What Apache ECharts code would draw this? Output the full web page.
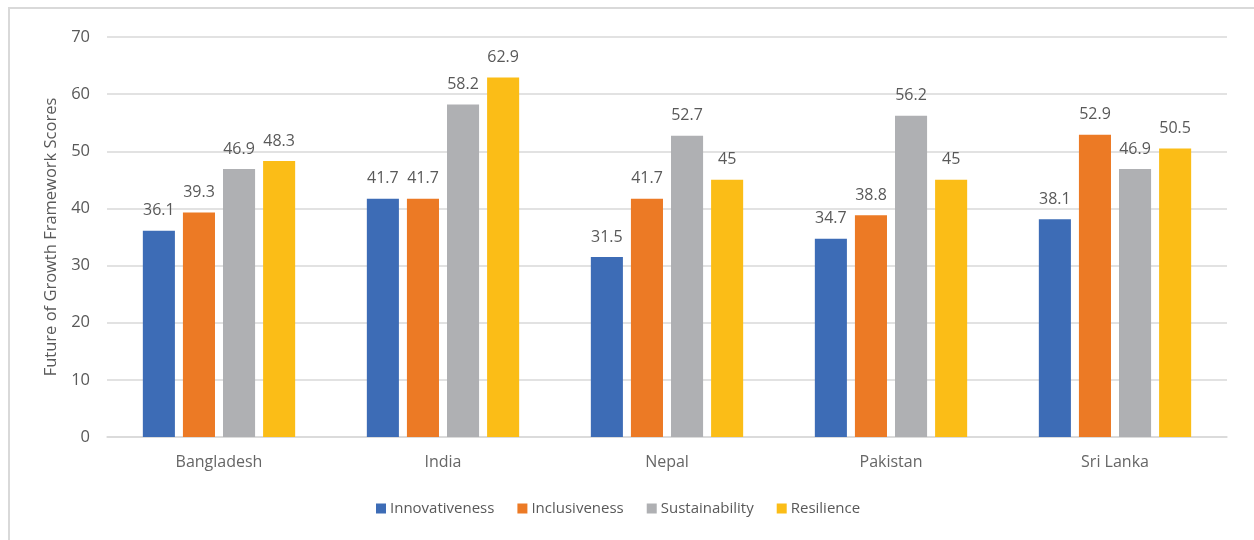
<!DOCTYPE html>
<html>
<head>
<meta charset="utf-8">
<script src="https://cdn.jsdelivr.net/npm/echarts@6/dist/echarts.min.js"></script>
<style>
  html, body { margin: 0; padding: 0; background: #ffffff; }
  #frame { position: absolute; left: 8px; top: 7px; width: 1246px; height: 533px;
           border-left: 2px solid #d9d9d9; border-top: 2px solid #d9d9d9; box-sizing: border-box; }
  #chart { width: 1254px; height: 540px; }
</style>
</head>
<body>
<div id="frame"></div>
<div id="chart"></div>
<script>
const countries = ['Bangladesh', 'India', 'Nepal', 'Pakistan', 'Sri Lanka'];
const innovativeness = [36.1, 41.7, 31.5, 34.7, 38.1];
const inclusiveness = [39.3, 41.7, 41.7, 38.8, 52.9];
const sustainability = [46.9, 58.2, 52.7, 56.2, 46.9];
const resilience = [48.3, 62.9, 45, 45, 50.5];
const seriesNames = ['Innovativeness', 'Inclusiveness', 'Sustainability', 'Resilience'];
const seriesColors = ['#3d6cb6', '#ec7a25', '#afb0b3', '#fbbd17'];

const font = '"Open Sans", "Noto Sans", sans-serif';
const textColor = '#595959';

const chart = echarts.init(document.getElementById('chart'), null, { renderer: 'canvas' });

const dataSets = [innovativeness, inclusiveness, sustainability, resilience];
const series = dataSets.map((d, i) => ({
  name: seriesNames[i],
  type: 'bar',
  data: d,
  barGap: '25%',
  barCategoryGap: '32%',
  itemStyle: { color: seriesColors[i] },
  label: {
    show: true,
    position: 'top',
    distance: 12,
    color: textColor,
    fontFamily: font,
    fontSize: 16
  },
  emphasis: { disabled: true }
}));

chart.setOption({
  animation: false,
  backgroundColor: 'transparent',
  grid: { left: 107, right: 27, top: 37, bottom: 103, containLabel: false },
  legend: {
    bottom: 19,
    left: 371,
    itemWidth: 10,
    itemHeight: 10,
    itemGap: 23,
    icon: 'rect',
    textStyle: { color: textColor, fontFamily: font, fontSize: 15, padding: [0, 0, 0, -1] },
    data: seriesNames
  },
  xAxis: {
    type: 'category',
    data: countries,
    axisLine: { show: true, lineStyle: { color: '#d9d9d9', width: 1.5 } },
    axisTick: { show: false },
    axisLabel: { color: '#666666', fontFamily: font, fontSize: 16, margin: 17 }
  },
  yAxis: {
    type: 'value',
    min: 0,
    max: 70,
    interval: 10,
    name: 'Future of Growth Framework Scores',
    nameLocation: 'middle',
    nameGap: 38,
    nameTextStyle: { color: textColor, fontFamily: font, fontSize: 16.5 },
    axisLine: { show: false },
    axisTick: { show: false },
    axisLabel: { color: textColor, fontFamily: font, fontSize: 16.5, margin: 17 },
    splitLine: { lineStyle: { color: '#d9d9d9', width: 1.5 } }
  },
  series: series
});
</script>
</body>
</html>
